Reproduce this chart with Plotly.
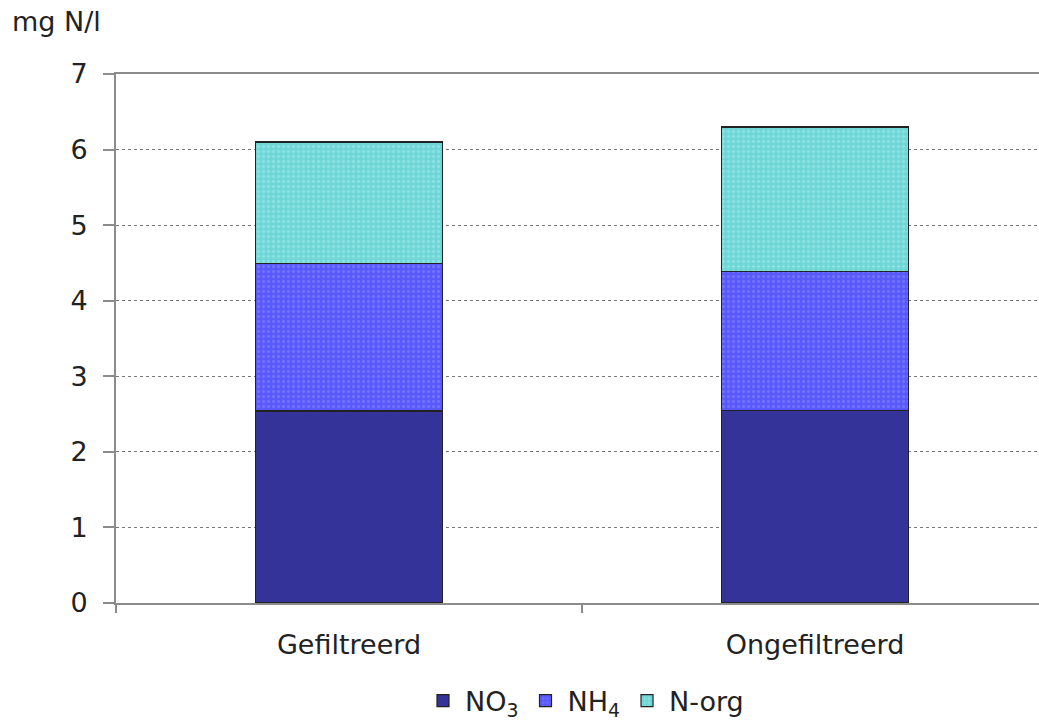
import plotly.graph_objects as go

# Nitrogen fractions (mg N/l) per sample type
categories = ["Gefiltreerd", "Ongefiltreerd"]
no3 = [2.54, 2.55]
nh4 = [1.95, 1.84]
n_org = [1.61, 1.91]

series = [
    ("NO<sub>3</sub>", no3, "#333399", None),
    ("NH<sub>4</sub>", nh4, "#5858ff", "#8a8aff"),
    ("N-org", n_org, "#6fd6d6", "#a6ecec"),
]

fig = go.Figure()
for name, vals, color, dots in series:
    marker = dict(color=color, line=dict(color="#222222", width=1.2))
    if dots:
        marker["pattern"] = dict(shape=".", fillmode="overlay", fgcolor=dots,
                                 size=5, solidity=0.35)
    fig.add_trace(go.Bar(x=categories, y=vals, name=name, marker=marker, width=0.4))

W, H = 1039, 726
L, R, T, B = 116, 0, 74, 123
plot_w = W - L - R
plot_h = H - T - B

fig.update_layout(
    width=W, height=H,
    barmode="stack",
    plot_bgcolor="white", paper_bgcolor="white",
    margin=dict(l=L, r=R, t=T, b=B, autoexpand=False),
    font=dict(family="DejaVu Sans", size=27, color="#222222"),
    legend=dict(orientation="h", x=(585 - L) / plot_w, xanchor="center",
                y=(603 - 701) / plot_h, yanchor="middle",
                font=dict(size=27), itemwidth=34, traceorder="normal"),
    xaxis=dict(range=[-0.5, -0.5 + plot_w / 466.0], showline=True, mirror=True,
               linecolor="#8c8c8c", linewidth=2, ticks="outside",
               tickson="boundaries", ticklen=8, tickcolor="#8c8c8c",
               tickwidth=2, showgrid=False, ticklabelstandoff=17),
    yaxis=dict(range=[0, 7], dtick=1, showline=True, linecolor="#8c8c8c",
               linewidth=2, ticks="outside", ticklen=11, tickcolor="#8c8c8c",
               tickwidth=2, showgrid=True, gridcolor="#777777", gridwidth=1.2,
               griddash="3px,3px", zeroline=False, ticklabelstandoff=10),
    annotations=[dict(text="mg N/l", xref="paper", yref="paper",
                      x=(10 - L) / plot_w, y=(603 - 22) / plot_h,
                      xanchor="left", yanchor="middle", showarrow=False,
                      font=dict(size=27))],
)

fig.write_html("out.html")
